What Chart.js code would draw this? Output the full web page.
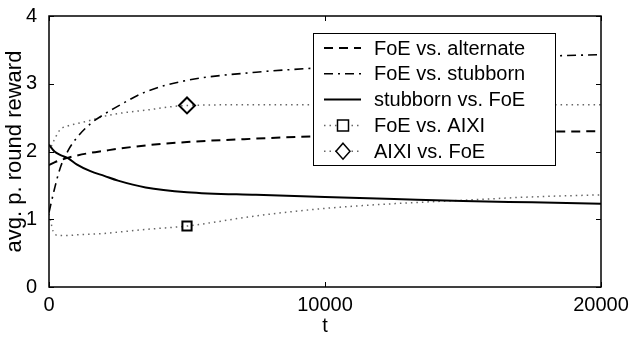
<!DOCTYPE html>
<html>
<head>
<meta charset="utf-8">
<script src="https://cdn.jsdelivr.net/npm/chart.js@4/dist/chart.umd.min.js"></script>
<style>
html,body{margin:0;padding:0;background:#fff;}
#c{display:block;}
</style>
</head>
<body>
<canvas id="c" width="631" height="338"></canvas>
<script>
const tValues = [0, 200, 400, 700, 1000, 1500, 2000, 2500, 3500, 5000, 7500, 10000, 12500, 15000, 17500, 20000];
const seriesLabels = ["FoE vs. alternate", "FoE vs. stubborn", "stubborn vs. FoE", "FoE vs. AIXI", "AIXI vs. FoE"];
const foeVsAlternate = [1.80, 1.84, 1.87, 1.91, 1.94, 1.98, 2.01, 2.04, 2.09, 2.14, 2.19, 2.23, 2.26, 2.28, 2.29, 2.30];
const foeVsStubborn  = [1.10, 1.45, 1.75, 2.02, 2.20, 2.41, 2.55, 2.67, 2.88, 3.05, 3.17, 3.24, 3.30, 3.35, 3.40, 3.43];
const stubbornVsFoe  = [2.10, 2.00, 1.95, 1.90, 1.81, 1.71, 1.64, 1.57, 1.47, 1.40, 1.36, 1.33, 1.30, 1.27, 1.25, 1.23];
const foeVsAixi      = [1.08, 0.78, 0.76, 0.76, 0.77, 0.78, 0.79, 0.81, 0.85, 0.90, 1.05, 1.16, 1.23, 1.28, 1.33, 1.36];
const aixiVsFoe      = [2.00, 2.18, 2.32, 2.38, 2.41, 2.46, 2.52, 2.56, 2.61, 2.68, 2.69, 2.69, 2.69, 2.69, 2.69, 2.69];
const markerT = 5000;
const xTicks = [0, 10000, 20000];
const yTicks = [0, 1, 2, 3, 4];

const FONT = "'Liberation Sans', Arial, Helvetica, sans-serif";
const pts = arr => arr.map((v, i) => ({x: tValues[i], y: v}));
const markerRadius = r => ctx => (ctx.raw && ctx.raw.x === markerT ? r : 0);

const datasets = [
  {label: seriesLabels[0], data: pts(foeVsAlternate), borderColor: '#000', borderWidth: 2, borderDash: [9, 6], pointRadius: 0},
  {label: seriesLabels[1], data: pts(foeVsStubborn), borderColor: '#000', borderWidth: 1.6, borderDash: [9, 5, 2, 5], pointRadius: 0},
  {label: seriesLabels[2], data: pts(stubbornVsFoe), borderColor: '#000', borderWidth: 2, borderDash: [], pointRadius: 0},
  {label: seriesLabels[3], data: pts(foeVsAixi), borderColor: '#666', borderWidth: 1.5, borderDash: [1.5, 4],
   pointStyle: 'rect', pointRadius: markerRadius(6.5), pointBorderColor: '#000', pointBorderWidth: 2, pointBackgroundColor: 'rgba(0,0,0,0)'},
  {label: seriesLabels[4], data: pts(aixiVsFoe), borderColor: '#666', borderWidth: 1.5, borderDash: [1.5, 4],
   pointStyle: 'rectRot', pointRadius: markerRadius(8), pointBorderColor: '#000', pointBorderWidth: 2, pointBackgroundColor: 'rgba(0,0,0,0)'}
];
datasets.forEach(d => { d.fill = false; d.cubicInterpolationMode = 'monotone'; d.pointHoverRadius = 0; });

const framePlugin = {
  id: 'frame',
  afterDatasetsDraw(chart) {
    const {ctx, chartArea: a, scales} = chart;
    ctx.save();
    ctx.strokeStyle = '#000';
    ctx.lineWidth = 1.5;
    ctx.setLineDash([]);
    ctx.strokeRect(a.left, a.top, a.right - a.left, a.bottom - a.top);
    ctx.lineWidth = 1;
    const tl = 5;
    ctx.beginPath();
    xTicks.forEach(v => {
      const x = Math.round(scales.x.getPixelForValue(v)) + 0.5;
      ctx.moveTo(x, a.bottom); ctx.lineTo(x, a.bottom - tl);
      ctx.moveTo(x, a.top); ctx.lineTo(x, a.top + tl);
    });
    yTicks.forEach(v => {
      const y = Math.round(scales.y.getPixelForValue(v)) + 0.5;
      ctx.moveTo(a.left, y); ctx.lineTo(a.left + tl, y);
      ctx.moveTo(a.right, y); ctx.lineTo(a.right - tl, y);
    });
    ctx.stroke();
    ctx.restore();
  },
  afterDraw(chart) {
    const {ctx} = chart;
    const bx = 313.5, by = 33.5, bw = 242, bh = 132;
    ctx.save();
    ctx.fillStyle = '#fff';
    ctx.fillRect(bx, by, bw, bh);
    ctx.strokeStyle = '#000';
    ctx.lineWidth = 1;
    ctx.setLineDash([]);
    ctx.strokeRect(bx, by, bw, bh);
    ctx.font = '20px ' + FONT;
    ctx.textBaseline = 'middle';
    ctx.fillStyle = '#000';
    chart.data.datasets.forEach((d, i) => {
      const y = 48 + i * 25.8;
      ctx.save();
      ctx.strokeStyle = d.borderColor;
      ctx.lineWidth = d.borderWidth;
      ctx.setLineDash(d.borderDash || []);
      ctx.beginPath();
      ctx.moveTo(324, y); ctx.lineTo(361, y);
      ctx.stroke();
      ctx.restore();
      if (d.pointStyle === 'rect' || d.pointStyle === 'rectRot') {
        ctx.save();
        ctx.fillStyle = '#fff';
        ctx.strokeStyle = '#000';
        ctx.lineWidth = 1.5;
        ctx.setLineDash([]);
        ctx.beginPath();
        if (d.pointStyle === 'rect') {
          ctx.rect(343 - 5.5, y - 5.5, 11, 11);
        } else {
          ctx.moveTo(343, y - 8); ctx.lineTo(350, y); ctx.lineTo(343, y + 8); ctx.lineTo(336, y); ctx.closePath();
        }
        ctx.fill();
        ctx.stroke();
        ctx.restore();
      }
      ctx.fillText(d.label, 374, y + 1);
    });
    ctx.restore();
  }
};

new Chart(document.getElementById('c'), {
  type: 'line',
  data: {datasets},
  options: {
    responsive: false,
    devicePixelRatio: 1,
    animation: false,
    events: [],
    layout: {padding: {left: 0, top: 13, right: 30, bottom: 0}},
    plugins: {legend: {display: false}, tooltip: {enabled: false}},
    scales: {
      x: {
        type: 'linear', min: 0, max: 20000,
        afterBuildTicks: s => { s.ticks = xTicks.map(v => ({value: v})); },
        afterFit: s => { s.height = 51; },
        grid: {display: false}, border: {display: false},
        ticks: {color: '#000', font: {family: FONT, size: 20}, padding: -2, maxRotation: 0, callback: v => String(v)},
        title: {display: true, text: 't', color: '#000', font: {family: FONT, size: 20}, padding: {top: 0, bottom: 0}}
      },
      y: {
        type: 'linear', min: 0, max: 4,
        afterBuildTicks: s => { s.ticks = yTicks.map(v => ({value: v})); },
        afterFit: s => { s.width = 49; },
        grid: {display: false}, border: {display: false},
        ticks: {color: '#000', font: {family: FONT, size: 20}, padding: 4, callback: v => String(v)},
        title: {display: true, text: 'avg. p. round reward', color: '#000', font: {family: FONT, size: 22}, padding: {top: 2, bottom: 0}}
      }
    }
  },
  plugins: [framePlugin]
});
</script>
</body>
</html>
